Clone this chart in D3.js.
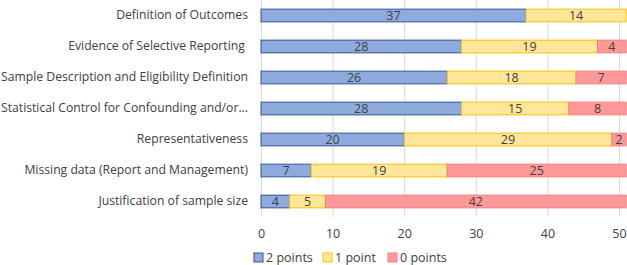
<!DOCTYPE html>
<html>
<head>
<meta charset="utf-8">
<script src="https://cdn.jsdelivr.net/npm/d3@7"></script>
<style>
  body { margin: 0; background: #fff; }
  text { font-family: "Open Sans", sans-serif; fill: #404040; }
</style>
</head>
<body>
<script>
var categories = [
    "Definition of Outcomes",
    "Evidence of Selective Reporting ",
    "Sample Description and Eligibility Definition",
    "Statistical Control for Confounding and/or...",
    "Representativeness",
    "Missing data (Report and Management)",
    "Justification of sample size"
];
var twoPoints = [37, 28, 26, 28, 20, 7, 4];
var onePoint = [14, 19, 18, 15, 29, 19, 5];
var zeroPoints = [0, 4, 7, 8, 2, 25, 42];
var seriesNames = ["2 points", "1 point", "0 points"];
var xTicks = [0, 10, 20, 30, 40, 50];

var fills = ["#8faadc", "#ffe699", "#ff9999"];
var strokes = ["#2f5597", "#ffc000", "#ff7c80"];

var width = 627, height = 265;
var left = 261;

var svg = d3.select("body")
    .append("svg")
    .attr("width", width)
    .attr("height", height);

var x = d3.scaleLinear()
    .domain([0, 51])
    .range([left, left + 7.16 * 51]);

var y = d3.scaleBand()
    .domain(categories)
    .range([0, 217])
    .paddingInner(0.59)
    .paddingOuter(0.295);

// gridlines
svg.append("g")
    .selectAll("line")
    .data(xTicks)
    .enter()
    .append("line")
    .attr("x1", d => x(d) + 0.5)
    .attr("x2", d => x(d) + 0.5)
    .attr("y1", 0)
    .attr("y2", 217)
    .attr("stroke", "#d9d9d9")
    .attr("stroke-width", 1);

var rows = categories.map((c, i) => ({
    name: c,
    values: [twoPoints[i], onePoint[i], zeroPoints[i]]
}));

var stack = d3.stack().keys([0, 1, 2]).value((d, k) => d.values[k]);
var layers = stack(rows);

var layer = svg.selectAll(".layer")
    .data(layers)
    .enter()
    .append("g")
    .attr("class", "layer");

layer.selectAll("rect")
    .data((l, k) => l.map(d => ({d: d, k: k})))
    .enter()
    .filter(e => e.d[1] - e.d[0] > 0)
    .append("rect")
    .attr("x", e => x(e.d[0]))
    .attr("y", e => y(e.d.data.name))
    .attr("width", e => x(e.d[1]) - x(e.d[0]))
    .attr("height", y.bandwidth())
    .attr("fill", e => fills[e.k])
    .attr("stroke", e => strokes[e.k])
    .attr("stroke-width", 1);

layer.selectAll("text")
    .data((l, k) => l.map(d => ({d: d, k: k})))
    .enter()
    .filter(e => e.d[1] - e.d[0] > 0)
    .append("text")
    .attr("x", e => (x(e.d[0]) + x(e.d[1])) / 2)
    .attr("y", e => y(e.d.data.name) + y.bandwidth() / 2)
    .attr("dy", "0.36em")
    .attr("text-anchor", "middle")
    .attr("font-size", 12.5)
    .text(e => e.d[1] - e.d[0]);

// category labels
var yAxis = d3.axisLeft(y).tickSize(0).tickPadding(13);
var ya = svg.append("g")
    .attr("transform", `translate(${left}, 0)`)
    .call(yAxis);
ya.select(".domain").remove();
ya.selectAll("text")
    .attr("font-size", 12.2)
    .attr("fill", "#404040")
    .style("font-family", "'Open Sans', sans-serif")
    .style("white-space", "pre");

// x axis
var xAxis = d3.axisBottom(x).tickValues(xTicks).tickSize(0).tickPadding(12);
var xa = svg.append("g")
    .attr("transform", "translate(0, 217)")
    .call(xAxis);
xa.select(".domain").remove();
xa.selectAll("text")
    .attr("font-size", 12.5)
    .attr("fill", "#404040")
    .style("font-family", "'Open Sans', sans-serif");

// legend
var legendX = [254, 323, 388];
var legend = svg.append("g")
    .selectAll("g")
    .data(seriesNames)
    .enter()
    .append("g")
    .attr("transform", (d, i) => `translate(${legendX[i]}, 253)`);

legend.append("rect")
    .attr("width", 9)
    .attr("height", 9)
    .attr("fill", (d, i) => fills[i])
    .attr("stroke", (d, i) => strokes[i]);

legend.append("text")
    .attr("x", 12)
    .attr("y", 4.5)
    .attr("dy", "0.36em")
    .attr("font-size", 12.5)
    .text(d => d);
</script>
</body>
</html>
